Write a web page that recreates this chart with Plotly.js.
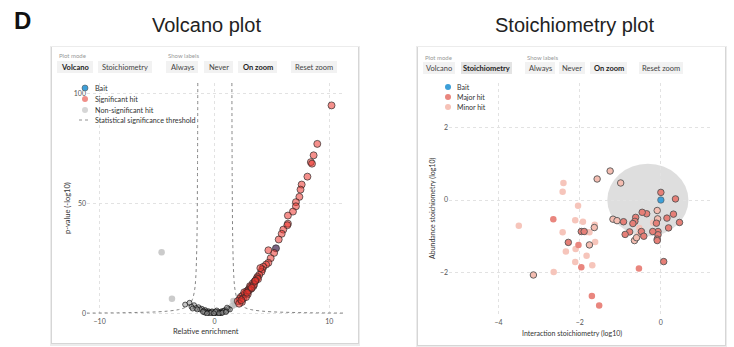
<!DOCTYPE html>
<html><head><meta charset="utf-8">
<script src="https://cdn.plot.ly/plotly-3.0.1.min.js"></script>
<style>html,body{margin:0;padding:0;background:#fff}#c{width:734px;height:347px}</style>
</head><body><div id="c"></div>
<script>
// ---------- DATA ----------
// Volcano plot: significant hits (relative enrichment, -log10 p)
const sigX = [10.2, 8.96, 8.64, 8.4, 8.5, 8.1, 7.6, 7.5, 7.4, 7.1, 7.1, 6.84, 6.4, 6.4, 6.35, 6.0, 5.86, 5.6, 5.2, 4.7, 4.9, 4.7, 4.5, 4.26, 4.17, 4.1, 3.9, 3.75, 3.7, 3.5, 3.33, 3.4, 3.1, 3.2, 2.96, 2.8, 2.67, 2.46, 2.3, 2.2, 2.03, 2.5, 2.6, 2.9, 3.0, 3.6, 3.8, 4.0, 2.4, 2.75, 3.15, 3.45, 2.15, 2.35, 2.85, 3.25, 3.55];
const sigY = [94.8, 77.3, 72.1, 69.0, 68.3, 62.4, 58.8, 56.5, 53.2, 50.8, 48.9, 46.5, 44.7, 41.0, 40.3, 38.3, 36.4, 33.8, 27.7, 28.9, 25.3, 23.2, 22.4, 21.4, 20.2, 19.1, 17.7, 16.8, 16.2, 14.7, 13.8, 12.6, 12.6, 11.4, 11.0, 10.2, 9.2, 8.3, 7.7, 6.8, 5.8, 7.0, 9.8, 8.9, 10.6, 15.2, 15.8, 20.8, 5.4, 7.6, 12.2, 13.4, 4.6, 6.2, 9.6, 11.8, 15.0];
// Volcano plot: bait
const baitVX = [5.36];
const baitVY = [29.8];
// Volcano plot: non-significant hits far from the origin
const nsFarX = [-4.6, -3.7, 1.65, 1.8, 1.55];
const nsFarY = [28.0, 6.8, 5.8, 4.2, 3.6];
// Volcano plot: non-significant hits near the origin
const nsX = [-2.55, -2.17, -1.77, -1.39, -1.1, -0.81, -0.52, -0.23, 0.06, 0.35, 0.64, 0.93, 1.22, -2.0, -1.6, -1.25, -0.95, -0.7, -0.45, -0.3, -0.1, 0.15, 0.3, 0.5, 0.75, 0.85, 1.05, 1.35, -1.5, -0.6, 0.0, 0.45, 1.1, -0.85, -0.2, 0.2, 0.6, -1.9, -1.0, -0.35, 0.1, 0.4, 0.7, 1.0, -0.65, -0.05];
const nsY = [4.2, 5.0, 3.9, 3.0, 2.3, 1.7, 1.2, 0.9, 0.75, 0.9, 1.2, 1.7, 2.3, 3.2, 2.6, 2.0, 1.4, 1.0, 0.7, 0.5, 0.4, 0.4, 0.6, 0.7, 1.0, 1.4, 1.3, 2.0, 2.0, 0.4, 0.2, 0.3, 2.8, 0.6, 1.1, 1.5, 0.3, 2.4, 0.9, 0.3, 1.0, 0.2, 0.5, 0.8, 0.15, 0.2];
// Statistical significance threshold
const thrRX = [1.52, 1.55, 1.6, 1.7, 1.8, 2.0, 2.3, 2.7, 3.2, 4.0, 5.0, 6.5, 8.5, 11.2];
const thrRY = [105, 60, 32, 16, 10.7, 6.4, 4.0, 2.7, 1.9, 1.3, 0.9, 0.65, 0.46, 0.33];
const thrLX = [-1.45, -1.48, -1.53, -1.63, -1.73, -1.93, -2.23, -2.63, -3.13, -3.93, -4.93, -6.43, -8.43, -11.1];
const thrLY = [105, 60, 32, 16, 10.7, 6.4, 4.0, 2.7, 1.9, 1.3, 0.9, 0.65, 0.46, 0.33];

// Stoichiometry plot (interaction stoichiometry log10, abundance stoichiometry log10)
const baitSX = [0];
const baitSY = [0];
const majorX = [0, 0.36, 0.31, 0.46, 0.15, 0.19, -0.07, -0.07, -0.09, -0.09, -0.11, -0.2, -0.35, -0.46, -0.48, -0.42, -0.62, -0.64, -0.69, -0.77, -0.88, -0.92, 0.07, -2.28, -1.96, -1.89];
const majorY = [0.21, 0.03, -0.39, -0.62, -0.5, -0.77, -0.87, -0.96, -1.08, -1.12, -0.64, -0.87, -0.38, -0.34, -0.87, -1.0, -0.48, -0.59, -0.65, -0.88, -0.95, -0.6, -1.7, -1.17, -0.87, -0.87];
const majorPlainX = [-0.54, -1.96, -2.03, -2.65, -1.7, -1.52];
const majorPlainY = [-1.89, -1.86, -1.24, -0.53, -2.65, -2.91];
const minorLabX = [-1.25, -1.57, -0.99, -1.64, -1.76, -1.18, -1.08, -0.65, -0.6, -0.09, -3.14, -0.08];
const minorLabY = [0.8, 0.58, 0.47, -0.76, -1.24, -0.53, -0.57, -1.12, -1.04, -0.29, -2.07, -0.52];
const minorX = [-2.4, -2.42, -2.04, -3.5, -2.11, -1.92, -2.42, -1.76, -1.63, -1.62, -2.34, -2.1, -1.83, -2.11, -1.69, -2.64, -0.53, -0.54, -0.19, -1.84];
const minorY = [0.47, 0.23, -0.16, -0.71, -0.56, -0.6, -0.89, -0.89, -0.68, -1.16, -1.42, -1.35, -1.54, -1.71, -1.8, -1.99, -0.77, -0.96, -0.63, -0.88];

// Tick labels
const volXTicks = [-10, 0, 10];
const volYTicks = [0, 50, 100];
const stoXTicks = [-4, -2, 0];
const stoYTicks = [-2, 0, 2];

// ---------- LAYOUT HELPERS ----------
const W = 734, H = 347;
const PX = x => x / W;
const PY = y => 1 - y / H;
const UI = 'Lato, "Open Sans", sans-serif';
const TITLE = '"Liberation Sans", Arial, sans-serif';

const shapes = [];
const annotations = [];

function card(x0, y0, x1, y1) {
  shapes.push({type:'rect', xref:'paper', yref:'paper', x0:PX(x0-2), x1:PX(x1+2), y0:PY(y1+3), y1:PY(y0-1), fillcolor:'#ececec', line:{width:0}, layer:'below'});
  shapes.push({type:'rect', xref:'paper', yref:'paper', x0:PX(x0-1), x1:PX(x1+1), y0:PY(y1+1), y1:PY(y0), fillcolor:'#d6d6d6', line:{width:0}, layer:'below'});
  shapes.push({type:'rect', xref:'paper', yref:'paper', x0:PX(x0), x1:PX(x1), y0:PY(y1), y1:PY(y0), fillcolor:'#ffffff', line:{width:0}, layer:'below'});
}
function button(x0, x1, y0, y1, label, bold, selected) {
  shapes.push({type:'rect', xref:'paper', yref:'paper', x0:PX(x0), x1:PX(x1), y0:PY(y1), y1:PY(y0), fillcolor: selected ? '#e4e4e4' : '#f2f2f2', line:{width:0}, layer:'below'});
  annotations.push({xref:'paper', yref:'paper', x:PX((x0+x1)/2), y:PY((y0+y1)/2), xanchor:'center', yanchor:'middle', showarrow:false,
    text: bold ? '<b>'+label+'</b>' : label, font:{family:UI, size:7.5, color: bold ? '#222' : '#444'}});
}
function smallLabel(x, y, t) {
  annotations.push({xref:'paper', yref:'paper', x:PX(x), y:PY(y), xanchor:'left', yanchor:'middle', showarrow:false, text:t, font:{family:UI, size:6, color:'#999'}});
}
function legendDot(x, y, color, line) {
  shapes.push({type:'circle', xref:'paper', yref:'paper', x0:PX(x-3), x1:PX(x+3), y0:PY(y+3), y1:PY(y-3), fillcolor:color, line:{width: line ? 0.6 : 0, color:'#555'}});
}
function legendText(x, y, t, size) {
  annotations.push({xref:'paper', yref:'paper', x:PX(x), y:PY(y), xanchor:'left', yanchor:'middle', showarrow:false, text:t, font:{family:UI, size:size, color:'#333'}});
}

// Cards
card(52, 47, 358, 343);
card(418, 47, 725, 345);

// Panel titles
annotations.push({xref:'paper', yref:'paper', x:PX(12), y:PY(20), xanchor:'left', yanchor:'middle', showarrow:false, text:'<b>D</b>', font:{family:TITLE, size:24, color:'#111'}});
annotations.push({xref:'paper', yref:'paper', x:PX(206), y:PY(25), xanchor:'center', yanchor:'middle', showarrow:false, text:'Volcano plot', font:{family:TITLE, size:20, color:'#222'}});
annotations.push({xref:'paper', yref:'paper', x:PX(574), y:PY(25), xanchor:'center', yanchor:'middle', showarrow:false, text:'Stoichiometry plot', font:{family:TITLE, size:20, color:'#222'}});

// Left controls
smallLabel(57, 56, 'Plot mode');
button(57, 93, 61, 73, 'Volcano', true, false);
button(98, 152, 61, 73, 'Stoichiometry', false, false);
smallLabel(166, 56, 'Show labels');
button(166, 198, 61, 73, 'Always', false, false);
button(204, 233, 61, 73, 'Never', false, false);
button(238, 277, 61, 73, 'On zoom', true, false);
button(291, 337, 61, 73, 'Reset zoom', false, false);

// Right controls
smallLabel(423, 57, 'Plot mode');
button(423, 455, 62, 74, 'Volcano', false, false);
button(461, 512, 62, 74, 'Stoichiometry', true, true);
smallLabel(525, 57, 'Show labels');
button(525, 555, 62, 74, 'Always', false, false);
button(559, 585, 62, 74, 'Never', false, false);
button(590, 627, 62, 74, 'On zoom', true, false);
button(639, 683, 62, 74, 'Reset zoom', false, false);

// Left legend
legendDot(85, 88, '#3d9fd8', true);
legendText(93, 88, 'Bait', 7.2);
legendDot(85, 99, '#f08e88', false);
legendText(93, 99, 'Significant hit', 7.2);
legendDot(85, 110, '#d6d6d6', false);
legendText(93, 110, 'Non-significant hit', 7.2);
shapes.push({type:'line', xref:'paper', yref:'paper', x0:PX(79), x1:PX(90), y0:PY(120), y1:PY(120), line:{color:'#777', width:0.8, dash:'3px,3px'}});
legendText(93, 120, 'Statistical significance threshold', 7.2);

// Right legend
legendDot(448, 87, '#3d9fd8', false);
legendText(455, 87, 'Bait', 7);
legendDot(448, 97, '#e9867e', false);
legendText(455, 97, 'Major hit', 7);
legendDot(448, 107, '#f6c2b7', false);
legendText(455, 107, 'Minor hit', 7);

// Axis titles
annotations.push({xref:'paper', yref:'paper', x:PX(206), y:PY(331), xanchor:'center', yanchor:'middle', showarrow:false, text:'Relative enrichment', font:{family:UI, size:7.5, color:'#333'}});
annotations.push({xref:'paper', yref:'paper', x:PX(67), y:PY(208), xanchor:'center', yanchor:'middle', showarrow:false, textangle:-90, text:'p-value (-log10)', font:{family:UI, size:7.5, color:'#333'}});
annotations.push({xref:'paper', yref:'paper', x:PX(572), y:PY(333), xanchor:'center', yanchor:'middle', showarrow:false, text:'Interaction stoichiometry (log10)', font:{family:UI, size:7, color:'#333'}});
annotations.push({xref:'paper', yref:'paper', x:PX(432), y:PY(208), xanchor:'center', yanchor:'middle', showarrow:false, textangle:-90, text:'Abundance stoichiometry (log10)', font:{family:UI, size:7, color:'#333'}});

// Grey circle in stoichiometry plot
shapes.push({type:'circle', xref:'x2', yref:'y2', x0:-1.32, x1:0.68, y0:-1.0, y1:1.0, fillcolor:'rgba(200,200,200,0.6)', line:{width:0}, layer:'below'});

// ---------- TRACES ----------
const edge = {color:'rgba(40,40,40,0.85)', width:0.8};
const traces = [
  {x:thrLX, y:thrLY, xaxis:'x', yaxis:'y', mode:'lines', line:{color:'#777', width:0.9, dash:'3px,3px', shape:'spline'}, hoverinfo:'skip'},
  {x:thrRX, y:thrRY, xaxis:'x', yaxis:'y', mode:'lines', line:{color:'#777', width:0.9, dash:'3px,3px', shape:'spline'}, hoverinfo:'skip'},
  {x:nsFarX, y:nsFarY, xaxis:'x', yaxis:'y', mode:'markers', marker:{size:6.5, color:'rgba(185,185,185,0.75)', line:{width:0}}},
  {x:nsX, y:nsY, xaxis:'x', yaxis:'y', mode:'markers', marker:{size:5, color:'rgba(150,150,150,0.55)', line:{color:'rgba(10,10,10,0.8)', width:0.8}}},
  {x:baitVX, y:baitVY, xaxis:'x', yaxis:'y', mode:'markers', marker:{size:7, color:'#7a6482', line:edge}},
  {x:sigX, y:sigY, xaxis:'x', yaxis:'y', mode:'markers', marker:{size:7, color:'rgba(236,52,46,0.55)', line:edge}},
  {x:minorX, y:minorY, xaxis:'x2', yaxis:'y2', mode:'markers', marker:{size:6.5, color:'#f6c2b7', opacity:0.95, line:{width:0}}},
  {x:minorLabX, y:minorLabY, xaxis:'x2', yaxis:'y2', mode:'markers', marker:{size:6.5, color:'#f4bdb1', line:{color:'#555', width:0.9}}},
  {x:majorPlainX, y:majorPlainY, xaxis:'x2', yaxis:'y2', mode:'markers', marker:{size:6.5, color:'#e9867e', line:{width:0}}},
  {x:majorX, y:majorY, xaxis:'x2', yaxis:'y2', mode:'markers', marker:{size:6.5, color:'#e67f77', line:{color:'#555', width:0.9}}},
  {x:baitSX, y:baitSY, xaxis:'x2', yaxis:'y2', mode:'markers', marker:{size:6.5, color:'#3d9fd8', line:{color:'#555', width:0.6}}}
];

const axBase = {showline:false, zeroline:false, ticks:'', showgrid:true, gridcolor:'#e2e2e2', griddash:'dot', gridwidth:1,
  tickfont:{family:UI, size:7, color:'#555'}, fixedrange:true};

const layout = {
  width: W, height: H, margin:{l:0, r:0, t:0, b:0},
  paper_bgcolor:'#ffffff', plot_bgcolor:'rgba(0,0,0,0)', showlegend:false,
  xaxis: Object.assign({}, axBase, {domain:[PX(87), PX(343)], range:[-11.1, 11.2], tickvals:volXTicks, anchor:'y'}),
  yaxis: Object.assign({}, axBase, {domain:[PY(316), PY(83)], range:[-1, 105], tickvals:volYTicks, anchor:'x'}),
  xaxis2: Object.assign({}, axBase, {domain:[PX(449), PX(712)], range:[-5.22, 1.26], tickvals:stoXTicks, anchor:'y2'}),
  yaxis2: Object.assign({}, axBase, {domain:[PY(317), PY(83)], range:[-3.23, 3.23], tickvals:stoYTicks, anchor:'x2'}),
  shapes: shapes, annotations: annotations
};

Plotly.newPlot('c', traces, layout, {displayModeBar:false, staticPlot:true});
</script>
</body></html>
